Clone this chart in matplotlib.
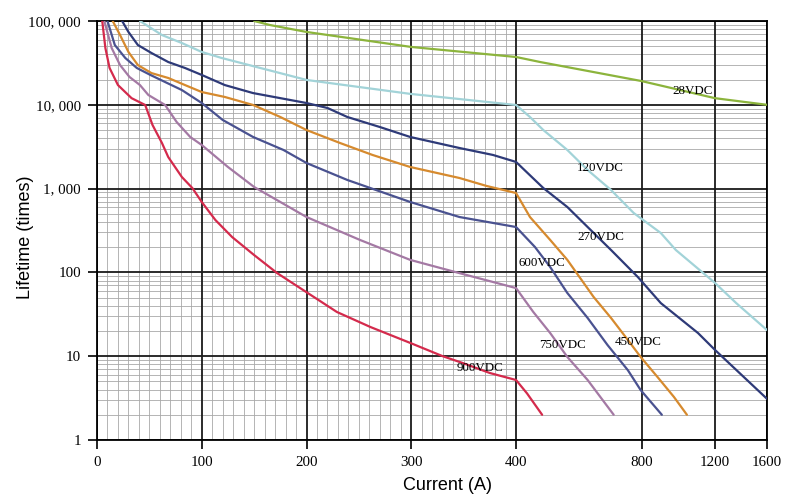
import numpy as np
import matplotlib
matplotlib.use("Agg")
import matplotlib.pyplot as plt
from matplotlib.ticker import FixedLocator, LogLocator, NullFormatter, FixedFormatter

# ---------------- data ----------------
x_28 = [150, 165, 200, 300, 400, 457, 800, 1200, 1600]
y_28 = [100000, 89600, 74000, 49000, 37200, 32400, 19200, 12000, 10000]

x_120 = [41, 62, 81, 100, 119, 200, 299, 400, 432, 465, 531, 594, 676, 766, 890, 967, 1200, 1350, 1600]
y_120 = [100000, 68000, 54600, 42700, 36200, 19800, 13500, 9950, 7150, 5000, 2890, 1667, 962, 512, 295, 185, 75, 43, 20.5]

x_270 = [24, 30, 39, 52, 68, 84, 100, 122, 149, 200, 220, 239, 270, 299, 346, 378, 400, 465, 531, 594, 676, 784, 890, 1093, 1200, 1600]
y_270 = [100000, 74000, 51700, 41500, 32400, 27500, 22700, 17200, 13800, 10500, 9160, 7150, 5430, 4130, 3050, 2520, 2080, 1016, 603, 348, 185, 88, 43, 18.9, 11.9, 3.1]

x_450 = [15, 22, 30, 39, 52, 68, 84, 100, 122, 149, 175, 200, 232, 263, 299, 346, 372, 400, 432, 483, 531, 614, 676, 742, 796, 875, 957, 1028]
y_450 = [100000, 68000, 42700, 29800, 23900, 20900, 17200, 14200, 12400, 9950, 7150, 5000, 3500, 2520, 1810, 1338, 1074, 886, 458, 244, 141, 50.9, 28.6, 15.6, 9.8, 5.6, 3.26, 2]

x_600 = [10, 17, 27, 38, 51, 65, 81, 100, 120, 149, 178, 200, 239, 299, 346, 400, 444, 483, 531, 594, 663, 742, 796, 895]
y_600 = [100000, 51700, 36200, 27500, 22700, 18700, 15000, 10500, 6590, 4130, 2890, 2020, 1267, 692, 458, 348, 201, 116, 56.8, 28.6, 13.6, 6.8, 3.95, 2]

x_750 = [7, 14, 22, 31, 41, 49, 65, 76, 89, 100, 125, 150, 200, 251, 299, 346, 400, 440, 483, 531, 594, 686]
y_750 = [100000, 47600, 29800, 21500, 17200, 13100, 9950, 6240, 4130, 3313, 1810, 1045, 458, 244, 141, 98, 65, 33.7, 18.9, 9.8, 5.2, 2]

x_900 = [5, 8, 12, 20, 33, 46, 53, 62, 68, 81, 91, 100, 113, 129, 150, 172, 200, 229, 261, 299, 330, 349, 375, 400, 425, 462]
y_900 = [100000, 47600, 27500, 17200, 12000, 9950, 5740, 3500, 2380, 1375, 1016, 692, 422, 264, 161, 98, 58, 33.7, 22.3, 14.4, 10, 8.3, 6.3, 5.2, 3.6, 2]

series_names = ["28VDC", "120VDC", "270VDC", "450VDC", "600VDC", "750VDC", "900VDC"]
series_x = [x_28, x_120, x_270, x_450, x_600, x_750, x_900]
series_y = [y_28, y_120, y_270, y_450, y_600, y_750, y_900]
series_colors = ["#8cb43c", "#a2d3d8", "#2e3a78", "#d68a2e", "#4a5290", "#a479a4", "#d42a4c"]

label_x = [1063, 638, 638, 784, 462, 516, 366]
label_y = [14600, 1760, 264, 14.8, 129, 13.6, 7.2]

x_major = [0, 100, 200, 300, 400, 800, 1200, 1600]
x_major_labels = ["0", "100", "200", "300", "400", "800", "1200", "1600"]
y_major = [1, 10, 100, 1000, 10000, 100000]
y_major_labels = ["1", "10", "100", "1, 000", "10, 000", "100, 000"]

# ---------------- scale: linear to 400, log above ----------------
K = 172.8

def fwd(x):
    x = np.asarray(x, dtype=float)
    xs = np.maximum(x, 400.0)
    return np.where(x <= 400, x, 400 + K * np.log(xs / 400.0))

def inv(t):
    t = np.asarray(t, dtype=float)
    ts = np.maximum(t, 400.0)
    return np.where(t <= 400, t, 400 * np.exp((ts - 400) / K))

fig = plt.figure(figsize=(8.05, 5.04), dpi=100)
fig.patch.set_facecolor("white")
ax = fig.add_axes([97 / 805, 1 - 440 / 504, 670 / 805, 419 / 504])
ax.set_xscale("function", functions=(fwd, inv))
ax.set_yscale("log")
ax.set_xlim(0, 1600)
ax.set_ylim(1, 100000)

# ticks
ax.xaxis.set_major_locator(FixedLocator(x_major))
ax.xaxis.set_major_formatter(FixedFormatter(x_major_labels))
ax.xaxis.set_minor_locator(FixedLocator([v for v in range(10, 400, 10) if v % 100 != 0]))
ax.xaxis.set_minor_formatter(NullFormatter())
ax.yaxis.set_major_locator(FixedLocator(y_major))
ax.yaxis.set_major_formatter(FixedFormatter(y_major_labels))
ax.yaxis.set_minor_locator(LogLocator(base=10, subs=np.arange(2, 10), numticks=20))
ax.yaxis.set_minor_formatter(NullFormatter())

serif = "Liberation Serif"
ax.tick_params(axis="both", which="major", direction="out", length=6.5, width=1.2,
               color="black", pad=5, labelsize=10.8)
ax.tick_params(axis="both", which="minor", length=0)
for lab in ax.get_xticklabels() + ax.get_yticklabels():
    lab.set_fontfamily(serif)

ax.grid(which="minor", color="#a8a8a8", linewidth=0.6, zorder=0)
ax.set_axisbelow(True)
# major grid drawn above the minor grid
for xv in x_major:
    ax.axvline(xv, color="#1a1a1a", linewidth=1.3, zorder=1.5)
for yv in y_major:
    ax.axhline(yv, color="#1a1a1a", linewidth=1.3, zorder=1.5)
for sp in ax.spines.values():
    sp.set_color("black")
    sp.set_linewidth(1.3)

for name, xs, ys, c in zip(series_names, series_x, series_y, series_colors):
    ax.plot(xs, ys, color=c, linewidth=1.6, solid_joinstyle="round",
            solid_capstyle="round", zorder=3)

for name, lx, ly in zip(series_names, label_x, label_y):
    ax.text(lx, ly, name, fontsize=9.4, fontfamily=serif, ha="center", va="center",
            color="black", zorder=4)

fig.text(447 / 805, 1 - 485 / 504, "Current (A)", fontsize=13, fontfamily="Liberation Sans",
         ha="center", va="center")
fig.text(26 / 805, 1 - 237 / 504, "Lifetime (times)", fontsize=13, fontfamily="Liberation Sans",
         ha="center", va="center", rotation=90)

fig.savefig("out.png", dpi=100, facecolor="white")
